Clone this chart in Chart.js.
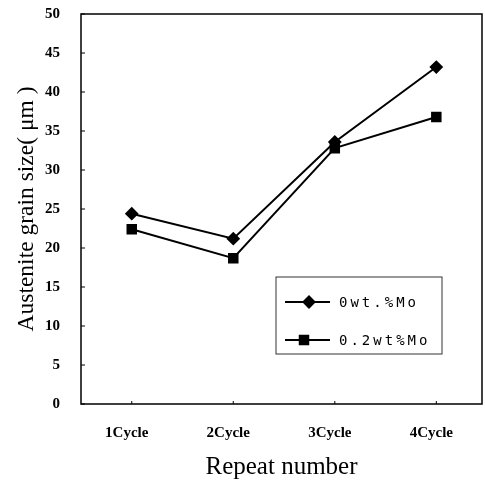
<!DOCTYPE html>
<html>
<head>
<meta charset="utf-8">
<script src="https://cdn.jsdelivr.net/npm/chart.js@4/dist/chart.umd.min.js"></script>
<style>
  body { margin: 0; background: #fff; }
  #wrap { width: 485px; height: 486px; }
</style>
</head>
<body>
<div id="wrap"><canvas id="grano" width="485" height="486"></canvas></div>
<script>
const ciclos = ['1Cycle', '2Cycle', '3Cycle', '4Cycle'];
const mo0 = [24.4, 21.2, 33.6, 43.2];
const mo02 = [22.4, 18.7, 32.8, 36.8];
const yTicks = [0, 5, 10, 15, 20, 25, 30, 35, 40, 45, 50];

// cada ciclo se coloca en x = 1..4
const puntos = serie => serie.map((v, i) => ({ x: i + 1, y: v }));

// marco del area de datos y marcas cortas hacia dentro
const marcoPlugin = {
    id: 'marco',
    afterDraw(chart) {
        const { ctx, chartArea: a, scales } = chart;
        ctx.save();
        ctx.strokeStyle = '#000';
        ctx.lineWidth = 1.5;
        ctx.strokeRect(a.left, a.top, a.right - a.left, a.bottom - a.top);
        ctx.lineWidth = 1;
        yTicks.forEach(v => {
            const y = scales.y.getPixelForValue(v);
            ctx.beginPath();
            ctx.moveTo(a.left, y);
            ctx.lineTo(a.left + 4, y);
            ctx.stroke();
        });
        ciclos.forEach((c, i) => {
            const x = scales.x.getPixelForValue(i + 1);
            ctx.beginPath();
            ctx.moveTo(x, a.bottom);
            ctx.lineTo(x, a.bottom - 3);
            ctx.stroke();
        });
        ctx.restore();
    }
};

// leyenda dentro del grafico, en recuadro
const leyendaPlugin = {
    id: 'leyenda',
    afterDraw(chart) {
        const { ctx } = chart;
        const x0 = 276, y0 = 277;
        const w = 166, h = 77;
        ctx.save();
        ctx.strokeStyle = '#333';
        ctx.lineWidth = 1;
        ctx.strokeRect(x0, y0, w, h);
        ctx.font = '14px "DejaVu Sans Mono"';
        ctx.letterSpacing = '3px';
        ctx.textBaseline = 'middle';
        ctx.fillStyle = '#000';
        chart.data.datasets.forEach((ds, i) => {
            const y = y0 + 25 + i * 38;
            ctx.strokeStyle = '#000';
            ctx.lineWidth = 2;
            ctx.beginPath();
            ctx.moveTo(x0 + 9, y);
            ctx.lineTo(x0 + 54, y);
            ctx.stroke();
            Chart.helpers.drawPoint(ctx, {
                pointStyle: ds.pointStyle,
                radius: ds.pointRadius,
                borderWidth: 1
            }, x0 + (i === 0 ? 33 : 28), y);
            ctx.fill();
            ctx.fillText(ds.label, x0 + 63, y + 1);
        });
        ctx.restore();
    }
};

new Chart(document.getElementById('grano').getContext('2d'), {
    type: 'line',
    data: {
        datasets: [
            { label: '0wt.%Mo', data: puntos(mo0), borderColor: '#000', backgroundColor: '#000',
              borderWidth: 2, pointStyle: 'rectRot', pointRadius: 5.5, tension: 0 },
            { label: '0.2wt%Mo', data: puntos(mo02), borderColor: '#000', backgroundColor: '#000',
              borderWidth: 2, pointStyle: 'rect', pointRadius: 6, tension: 0 }
        ]
    },
    options: {
        responsive: false,
        animation: false,
        layout: { autoPadding: false, padding: { top: 14, right: 3, left: 0, bottom: 0 } },
        plugins: { legend: { display: false }, tooltip: { enabled: false } },
        scales: {
            x: {
                type: 'linear',
                min: 0.5, max: 4.45,
                grid: { display: false, drawTicks: false },
                border: { display: false },
                ticks: {
                    stepSize: 1, includeBounds: false,
                    callback: v => ciclos[v - 1] || '',
                    color: '#000', padding: 20, labelOffset: -5,
                    font: { family: '"Liberation Serif"', size: 15, weight: 'bold' }
                },
                title: {
                    display: true, text: 'Repeat number', color: '#000',
                    font: { family: '"Liberation Serif"', size: 25 }, padding: { top: 0, bottom: 4 }
                },
                afterFit(s) {
                    s.height = 82;
                    s.paddingLeft = 0;
                    s.paddingRight = 0;
                }
            },
            y: {
                min: 0, max: 50,
                grid: { display: false, drawTicks: false },
                border: { display: false },
                ticks: {
                    stepSize: 5, color: '#000', padding: 21,
                    font: { family: '"Liberation Serif"', size: 15, weight: 'bold' }
                },
                title: {
                    display: true, text: 'Austenite grain size( μm )', color: '#000',
                    font: { family: '"Liberation Serif"', size: 23.5 }, padding: { top: 13, bottom: 0 }
                },
                afterFit(s) {
                    s.width = 81;
                    s.paddingTop = 0;
                    s.paddingBottom = 0;
                }
            }
        }
    },
    plugins: [marcoPlugin, leyendaPlugin]
});
</script>
</body>
</html>
